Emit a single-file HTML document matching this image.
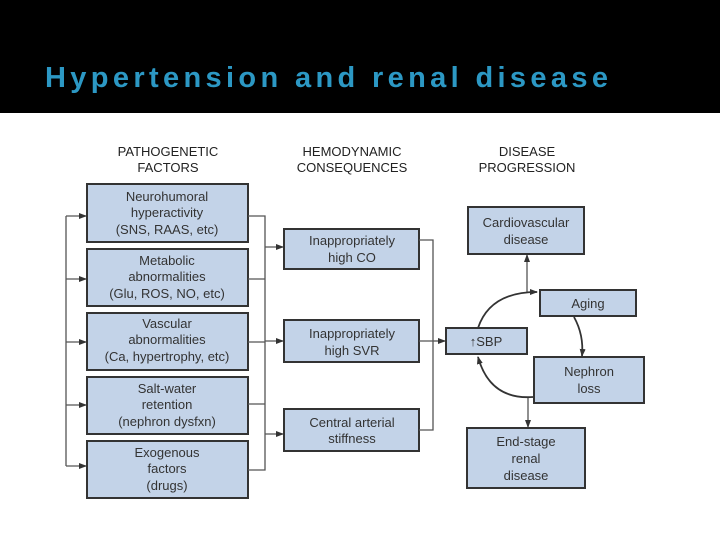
<!DOCTYPE html>
<html><head><style>
body{margin:0;width:720px;height:540px;overflow:hidden;background:#fff;font-family:"Liberation Sans",sans-serif}
</style></head><body>
<svg width="720" height="540" viewBox="0 0 720 540" xmlns="http://www.w3.org/2000/svg" font-family="Liberation Sans, sans-serif">
<defs><marker id="a" markerWidth="8" markerHeight="6" refX="7" refY="3" orient="auto" markerUnits="userSpaceOnUse"><path d="M0,0 L8,3 L0,6z" fill="#333"/></marker></defs>
<rect x="0" y="0" width="720" height="113" fill="#000"/>
<text x="45" y="87" font-size="29" font-weight="bold" fill="#2c98c4" textLength="563" lengthAdjust="spacing">Hypertension and renal disease</text>
<g font-size="13" fill="#222" text-anchor="middle">
<text x="168" y="156">PATHOGENETIC</text><text x="168" y="172">FACTORS</text>
<text x="352" y="156">HEMODYNAMIC</text><text x="352" y="172">CONSEQUENCES</text>
<text x="527" y="156">DISEASE</text><text x="527" y="172">PROGRESSION</text>
</g>
<g fill="#c3d3e8" stroke="#333" stroke-width="2">
<rect x="87" y="184" width="161" height="58"/><rect x="87" y="249" width="161" height="57"/>
<rect x="87" y="313" width="161" height="57"/><rect x="87" y="377" width="161" height="57"/>
<rect x="87" y="441" width="161" height="57"/>
<rect x="284" y="229" width="135" height="40"/><rect x="284" y="320" width="135" height="42"/>
<rect x="284" y="409" width="135" height="42"/>
<rect x="446" y="328" width="81" height="26"/>
<rect x="468" y="207" width="116" height="47"/><rect x="540" y="290" width="96" height="26"/>
<rect x="534" y="357" width="110" height="46"/><rect x="467" y="428" width="118" height="60"/>
</g>
<g fill="none" stroke="#555" stroke-width="1.3">
<path d="M66 216V466"/>
<path d="M66 216H86" marker-end="url(#a)"/>
<path d="M66 279H86" marker-end="url(#a)"/>
<path d="M66 342H86" marker-end="url(#a)"/>
<path d="M66 405H86" marker-end="url(#a)"/>
<path d="M66 466H86" marker-end="url(#a)"/>
<path d="M248 216H265V470H248M248 279H265M248 342H265M248 404H265"/>
<path d="M265 247H283" marker-end="url(#a)"/>
<path d="M265 341H283" marker-end="url(#a)"/>
<path d="M265 434H283" marker-end="url(#a)"/>
<path d="M419 240H433V430H419M419 341H433"/>
<path d="M433 341H445" marker-end="url(#a)"/>
<path d="M527 292V255" marker-end="url(#a)"/>
<path d="M528 397V427" marker-end="url(#a)"/>
</g>
<g fill="none" stroke="#333" stroke-width="1.8">
<path d="M478 328 Q490 292 537 292" marker-end="url(#a)"/>
<path d="M574 317 Q584 335 582 356" marker-end="url(#a)"/>
<path d="M533 397 Q490 400 478 357" marker-end="url(#a)"/>
</g>
<g font-size="13" fill="#333" text-anchor="middle">
<text x="167" y="201">Neurohumoral</text><text x="167" y="217">hyperactivity</text><text x="167" y="234">(SNS, RAAS, etc)</text>
<text x="167" y="265">Metabolic</text><text x="167" y="281">abnormalities</text><text x="167" y="298">(Glu, ROS, NO, etc)</text>
<text x="167" y="328">Vascular</text><text x="167" y="344">abnormalities</text><text x="167" y="361">(Ca, hypertrophy, etc)</text>
<text x="167" y="393">Salt-water</text><text x="167" y="409">retention</text><text x="167" y="426">(nephron dysfxn)</text>
<text x="167" y="457">Exogenous</text><text x="167" y="473">factors</text><text x="167" y="490">(drugs)</text>
<text x="352" y="245">Inappropriately</text><text x="352" y="262">high CO</text>
<text x="352" y="338">Inappropriately</text><text x="352" y="355">high SVR</text>
<text x="352" y="427">Central arterial</text><text x="352" y="443">stiffness</text>
<text x="486" y="346">↑SBP</text>
<text x="526" y="227">Cardiovascular</text><text x="526" y="244">disease</text>
<text x="588" y="308">Aging</text>
<text x="589" y="376">Nephron</text><text x="589" y="393">loss</text>
<text x="526" y="446">End-stage</text><text x="526" y="463">renal</text><text x="526" y="480">disease</text>
</g>
</svg>
</body></html>
